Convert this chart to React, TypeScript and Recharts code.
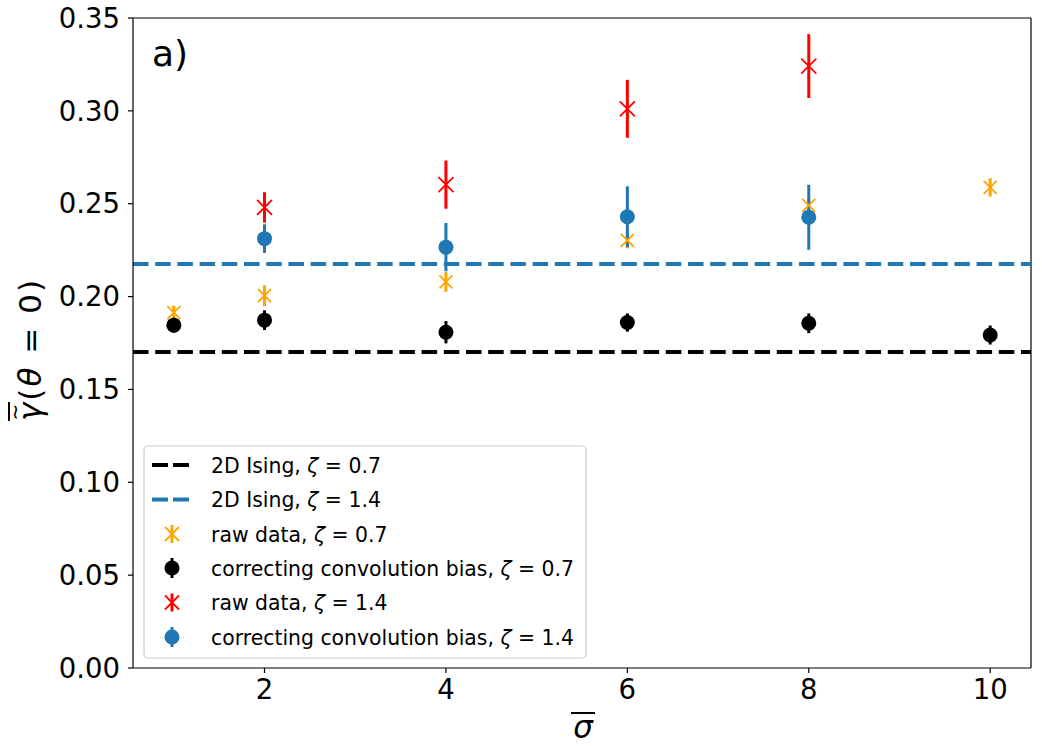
import React from 'react';
import { ComposedChart, Scatter, XAxis, YAxis, ReferenceLine, ErrorBar } from 'recharts';

// ---- data ----
const sigmaAll = [1, 2, 4, 6, 8, 10];
const sigmaWide = [2, 4, 6, 8];

const raw07 = [0.1913, 0.2005, 0.2079, 0.2303, 0.2491, 0.2588];
const raw07Err = [0.0038, 0.0056, 0.0053, 0.0043, 0.0033, 0.0050];

const corr07 = [0.1846, 0.1873, 0.1808, 0.1860, 0.1856, 0.1793];
const corr07Err = [0.0040, 0.0053, 0.0060, 0.0049, 0.0053, 0.0051];

const raw14 = [0.2480, 0.2603, 0.3011, 0.3241];
const raw14Err = [0.0082, 0.0130, 0.0156, 0.0172];

const corr14 = [0.2312, 0.2266, 0.2430, 0.2427];
const corr14Err = [0.0077, 0.0130, 0.0164, 0.0175];

const ising07 = 0.1702;
const ising14 = 0.2176;

const xTicks = [2, 4, 6, 8, 10];
const yTicks = [0, 0.05, 0.1, 0.15, 0.2, 0.25, 0.3, 0.35];
const xDomain = [0.55, 10.45];
const yDomain = [0, 0.35];

const ORANGE = '#FFA500';
const RED = '#FF0000';
const BLUE = '#1f77b4';
const BLACK = '#000000';
const FONT = '"DejaVu Sans", sans-serif';

const build = (xs: number[], ys: number[], es: number[]) =>
  xs.map((x, i) => ({ x, y: ys[i], e: es[i] }));

const dRaw07 = build(sigmaAll, raw07, raw07Err);
const dCorr07 = build(sigmaAll, corr07, corr07Err);
const dRaw14 = build(sigmaWide, raw14, raw14Err);
const dCorr14 = build(sigmaWide, corr14, corr14Err);

const makeX = (color: string, h: number) => (props: any) => {
  const { cx, cy } = props;
  if (cx == null || cy == null) return <g />;
  return (
    <g>
      <line x1={cx - h} y1={cy - h} x2={cx + h} y2={cy + h} stroke={color} strokeWidth={1.8} />
      <line x1={cx - h} y1={cy + h} x2={cx + h} y2={cy - h} stroke={color} strokeWidth={1.8} />
    </g>
  );
};

const makeDot = (color: string, r: number) => (props: any) => {
  const { cx, cy } = props;
  if (cx == null || cy == null) return <g />;
  return <circle cx={cx} cy={cy} r={r} fill={color} />;
};

const tickStyle = { fill: '#000', fontSize: 27.5, fontFamily: FONT };

const LegendRow = ({ y, kind, color, label, zeta }: any) => {
  const base = y + 7.5;
  let handle: any = null;
  if (kind === 'line') {
    handle = (
      <line x1={152} y1={y} x2={190} y2={y} stroke={color} strokeWidth={4} strokeDasharray="16 5" />
    );
  } else if (kind === 'x') {
    const h = 7;
    handle = (
      <g>
        <line x1={172} y1={y - 9} x2={172} y2={y + 9} stroke={color} strokeWidth={3} />
        <line x1={172 - h} y1={y - h} x2={172 + h} y2={y + h} stroke={color} strokeWidth={1.8} />
        <line x1={172 - h} y1={y + h} x2={172 + h} y2={y - h} stroke={color} strokeWidth={1.8} />
      </g>
    );
  } else {
    handle = (
      <g>
        <line x1={172} y1={y - 10} x2={172} y2={y + 10} stroke={color} strokeWidth={3} />
        <circle cx={172} cy={y} r={7.5} fill={color} />
      </g>
    );
  }
  return (
    <g>
      {handle}
      <text x={211} y={base} fontSize={20.4} fontFamily={FONT} fill="#000">
        {label}
        <tspan fontStyle="italic">ζ</tspan>
        {' = ' + zeta}
      </text>
    </g>
  );
};

export default function App() {
  return (
    <div style={{ position: 'absolute', left: 0, top: 0, width: 1042, height: 746, background: '#fff' }}>
      <ComposedChart
        width={1042}
        height={746}
        margin={{ top: 18, right: 11, bottom: 18, left: 20 }}
      >
        <XAxis
          dataKey="x"
          type="number"
          domain={xDomain}
          ticks={xTicks}
          allowDataOverflow
          height={60}
          tick={tickStyle}
          tickSize={5}
          tickMargin={6}
          axisLine={{ stroke: '#000', strokeWidth: 1.2 }}
          tickLine={{ stroke: '#000', strokeWidth: 1.2 }}
        />
        <YAxis
          type="number"
          domain={yDomain}
          ticks={yTicks}
          allowDataOverflow
          width={113}
          tick={tickStyle}
          tickSize={5}
          tickMargin={8}
          tickFormatter={(v: number) => v.toFixed(2)}
          axisLine={{ stroke: '#000', strokeWidth: 1.2 }}
          tickLine={{ stroke: '#000', strokeWidth: 1.2 }}
        />
        <ReferenceLine y={0.35} stroke="#000" strokeWidth={1.2} />
        <ReferenceLine x={10.45} stroke="#000" strokeWidth={1.2} />
        <ReferenceLine y={ising07} stroke={BLACK} strokeWidth={4} strokeDasharray="15.5 6.7" />
        <ReferenceLine y={ising14} stroke={BLUE} strokeWidth={4} strokeDasharray="15.5 6.7" />

        <Scatter data={dRaw07} dataKey="y" isAnimationActive={false} shape={makeX(ORANGE, 6.5)}>
          <ErrorBar dataKey="e" direction="y" width={0} stroke={ORANGE} strokeWidth={3} />
        </Scatter>
        <Scatter data={dCorr07} dataKey="y" isAnimationActive={false} shape={makeDot(BLACK, 7.5)}>
          <ErrorBar dataKey="e" direction="y" width={0} stroke={BLACK} strokeWidth={3} />
        </Scatter>
        <Scatter data={dRaw14} dataKey="y" isAnimationActive={false} shape={makeX(RED, 7.5)}>
          <ErrorBar dataKey="e" direction="y" width={0} stroke={RED} strokeWidth={3} />
        </Scatter>
        <Scatter data={dCorr14} dataKey="y" isAnimationActive={false} shape={makeDot(BLUE, 7.5)}>
          <ErrorBar dataKey="e" direction="y" width={0} stroke={BLUE} strokeWidth={3} />
        </Scatter>
      </ComposedChart>

      <svg
        width={1042}
        height={746}
        style={{ position: 'absolute', left: 0, top: 0, pointerEvents: 'none' }}
      >
        <text x={152} y={66} fontSize={36} fontFamily={FONT} fill="#000">a)</text>

        {/* y label */}
        <g transform="translate(41,421) rotate(-90)">
          <text x={0} y={0} fontSize={31} fontFamily={FONT} fill="#000" textLength={141} lengthAdjust="spacing">
            <tspan fontStyle="italic">γ</tspan>(<tspan fontStyle="italic">θ</tspan> = 0)
          </text>
          <text x={9} y={-19} fontSize={20} fontFamily={FONT} fill="#000" textAnchor="middle">~</text>
          <line x1={0} y1={-32} x2={19} y2={-32} stroke="#000" strokeWidth={2} />
        </g>

        {/* x label */}
        <text x={583} y={738} fontSize={31} fontFamily={FONT} fill="#000" textAnchor="middle" fontStyle="italic">σ</text>
        <line x1={571} y1={713} x2={595} y2={713} stroke="#000" strokeWidth={2} />

        {/* legend */}
        <rect x={144} y={446} width={442} height={212} rx={4} ry={4} fill="#fff" fillOpacity={0.8} stroke="#cccccc" strokeWidth={1.2} />
        <LegendRow y={465} kind="line" color={BLACK} label="2D Ising, " zeta="0.7" />
        <LegendRow y={499.5} kind="line" color={BLUE} label="2D Ising, " zeta="1.4" />
        <LegendRow y={534} kind="x" color={ORANGE} label="raw data, " zeta="0.7" />
        <LegendRow y={568} kind="dot" color={BLACK} label="correcting convolution bias, " zeta="0.7" />
        <LegendRow y={602.5} kind="x" color={RED} label="raw data, " zeta="1.4" />
        <LegendRow y={637} kind="dot" color={BLUE} label="correcting convolution bias, " zeta="1.4" />
      </svg>
    </div>
  );
}
